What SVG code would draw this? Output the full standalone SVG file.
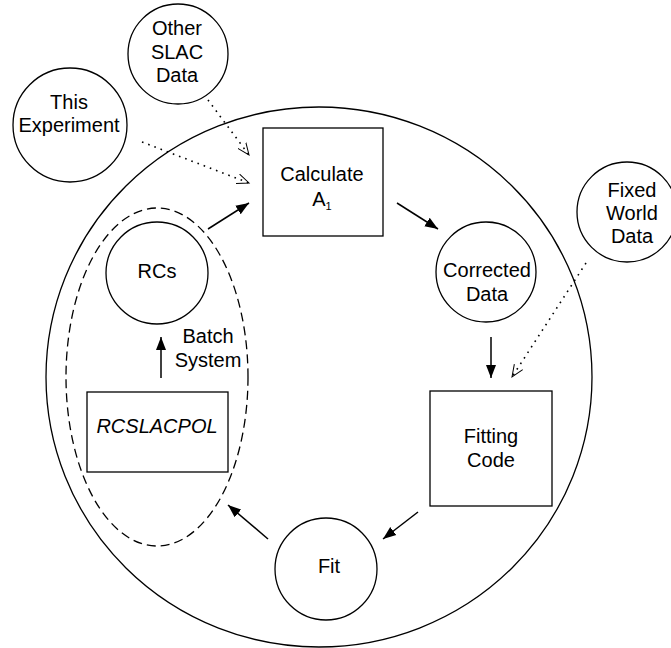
<svg xmlns="http://www.w3.org/2000/svg" width="671" height="648" viewBox="0 0 671 648">
<style>
.s{fill:none;stroke:#000;stroke-width:1.3}
.t{font-family:"Liberation Sans",Arial,sans-serif;font-size:20px;fill:#000;text-anchor:middle}
.c{stroke:#000;stroke-width:1.5;fill:none}
.d{stroke:#000;stroke-width:1.6;fill:none;stroke-dasharray:1.6,5}
</style>
<defs>
<marker id="fa" markerUnits="userSpaceOnUse" markerWidth="14" markerHeight="12" refX="13" refY="6" orient="auto">
<path d="M0,1 L13,6 L0,11 z" fill="#000"/>
</marker>
<marker id="oa" markerUnits="userSpaceOnUse" markerWidth="14" markerHeight="12" refX="12" refY="6" orient="auto">
<path d="M0,1 L12,6 L0,11" fill="none" stroke="#000" stroke-width="1"/>
</marker>
</defs>
<rect width="671" height="648" fill="#fff"/>
<g id="boundary"><ellipse class="s" cx="319" cy="377" rx="273" ry="270"/></g>
<g id="batch-group"><ellipse class="s" cx="157" cy="377" rx="91" ry="169" stroke-dasharray="9,5"/></g>
<g id="connectors">
<line class="c" x1="208" y1="229" x2="249" y2="203" marker-end="url(#fa)"/>
<line class="c" x1="397" y1="203" x2="438" y2="229" marker-end="url(#fa)"/>
<line class="c" x1="491" y1="337" x2="491" y2="378" marker-end="url(#fa)"/>
<line class="c" x1="418" y1="512" x2="383" y2="539" marker-end="url(#fa)"/>
<line class="c" x1="268" y1="539" x2="228" y2="505" marker-end="url(#fa)"/>
<line class="c" x1="161" y1="378" x2="161" y2="337" marker-end="url(#fa)"/>
<line class="d" x1="208" y1="100" x2="249" y2="155" marker-end="url(#oa)"/>
<line class="d" x1="142" y1="142" x2="249" y2="183" marker-end="url(#oa)"/>
<line class="d" x1="586" y1="263" x2="512" y2="377" marker-end="url(#oa)"/>
</g>
<g id="other-slac"><circle class="s" cx="178" cy="54" r="50"/><text class="t" x="177" y="35">Other</text><text class="t" x="177" y="59">SLAC</text><text class="t" x="177" y="82">Data</text></g>
<g id="this-experiment"><circle class="s" cx="70" cy="125" r="57"/><text class="t" x="69" y="109">This</text><text class="t" x="69" y="132">Experiment</text></g>
<g id="fixed-world"><circle class="s" cx="627" cy="212" r="50"/><text class="t" x="632" y="197">Fixed</text><text class="t" x="632" y="220">World</text><text class="t" x="632" y="243">Data</text></g>
<g id="calculate"><rect class="s" x="263" y="128" width="120" height="108"/><text class="t" x="322" y="181">Calculate</text><text class="t" x="322" y="206">A<tspan font-size="11" dy="4">1</tspan></text></g>
<g id="corrected"><circle class="s" cx="486" cy="272" r="50"/><text class="t" x="487" y="277">Corrected</text><text class="t" x="487" y="301">Data</text></g>
<g id="fitting"><rect class="s" x="430" y="391" width="122" height="115"/><text class="t" x="491" y="443">Fitting</text><text class="t" x="491" y="467">Code</text></g>
<g id="fit"><circle class="s" cx="326" cy="569" r="51"/><text class="t" x="329" y="573">Fit</text></g>
<g id="rcslacpol"><rect class="s" x="87" y="392" width="141" height="80"/><text class="t" x="157" y="433" font-style="italic">RCSLACPOL</text></g>
<g id="rcs"><circle class="s" cx="157" cy="273" r="51"/><text class="t" x="157" y="278">RCs</text></g>
<g id="batch-label"><text class="t" x="208" y="343" font-size="18.5">Batch</text><text class="t" x="208" y="367" font-size="18.5">System</text></g>
</svg>
